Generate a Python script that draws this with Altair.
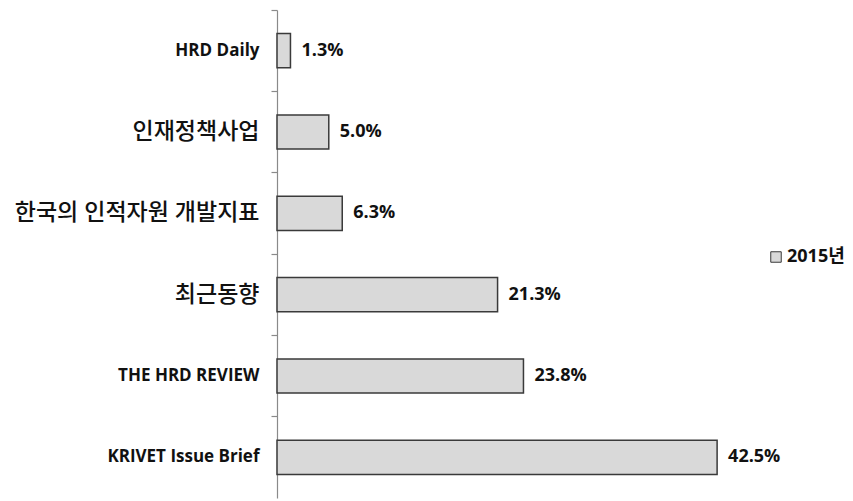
import altair as alt
import pandas as pd

categories = ["HRD Daily", "인재정책사업", "한국의 인적자원 개발지표", "최근동향", "THE HRD REVIEW", "KRIVET Issue Brief"]
values = [1.3, 5.0, 6.3, 21.3, 23.8, 42.5]
labels = ["1.3%", "5.0%", "6.3%", "21.3%", "23.8%", "42.5%"]
series = ["2015년"] * 6

df = pd.DataFrame({"cat": categories, "val": values, "label": labels, "year": series})

FONT = "Open Sans, Noto Sans CJK KR, sans-serif"
yscale = alt.Scale(domain=categories, paddingInner=0, paddingOuter=0)
xscale = alt.Scale(domain=[0, 45], nice=False)

base = alt.Chart(df)

bars = base.mark_bar(height={"band": 0.42}, stroke="#3a3a3a", strokeWidth=1.5).encode(
    y=alt.Y("cat:N", sort=categories, scale=yscale, title=None,
            axis=alt.Axis(orient="left", ticks=False, domain=True, domainColor="#8a8a8a", domainWidth=1.2,
                          labelPadding=18, labelColor="#111111", labelFont=FONT, labelLimit=300,
                          labelFontSize={"expr": "test(/[가-힣]/, datum.label) ? 23 : 17"},
                          labelFontWeight={"expr": "test(/[가-힣]/, datum.label) ? 500 : 'bold'"},
                          grid=False)),
    x=alt.X("val:Q", scale=xscale, axis=None),
    color=alt.Color("year:N", scale=alt.Scale(range=["#d9d9d9"]), title=None,
                    legend=alt.Legend(orient="none", legendX=490, legendY=238, padding=0,
                                      symbolType="square", symbolSize=110, symbolStrokeColor="#3a3a3a",
                                      symbolStrokeWidth=1, symbolFillColor="#d9d9d9",
                                      labelFont=FONT, labelFontSize=18, labelFontWeight="bold",
                                      labelColor="#111111", labelOffset=2)),
)

text = base.mark_text(align="left", dx=11, font=FONT, fontSize=18, fontWeight="bold", color="#111111").encode(
    y=alt.Y("cat:N", sort=categories, scale=yscale, axis=None),
    x=alt.X("val:Q", scale=xscale, axis=None),
    text="label:N",
)

ticks = base.mark_bar(opacity=0).encode(
    y=alt.Y("cat:N", sort=categories, scale=yscale, title=None,
            axis=alt.Axis(orient="left", bandPosition=0, labels=False, domain=False, ticks=True,
                          tickSize=6, tickColor="#8a8a8a", tickWidth=1.2, grid=False)),
    x=alt.X("val:Q", scale=xscale, axis=None),
)

chart = alt.layer(bars, text, ticks).resolve_axis(y="independent").properties(
    width=466, height=488,
    background="white",
    autosize=alt.AutoSizeParams(type="none"),
    padding={"left": 269, "top": 2, "right": 102, "bottom": 1},
).configure_view(strokeWidth=0, stroke="transparent")

chart.save("out.html", embed_options={"renderer": "svg", "actions": False})
